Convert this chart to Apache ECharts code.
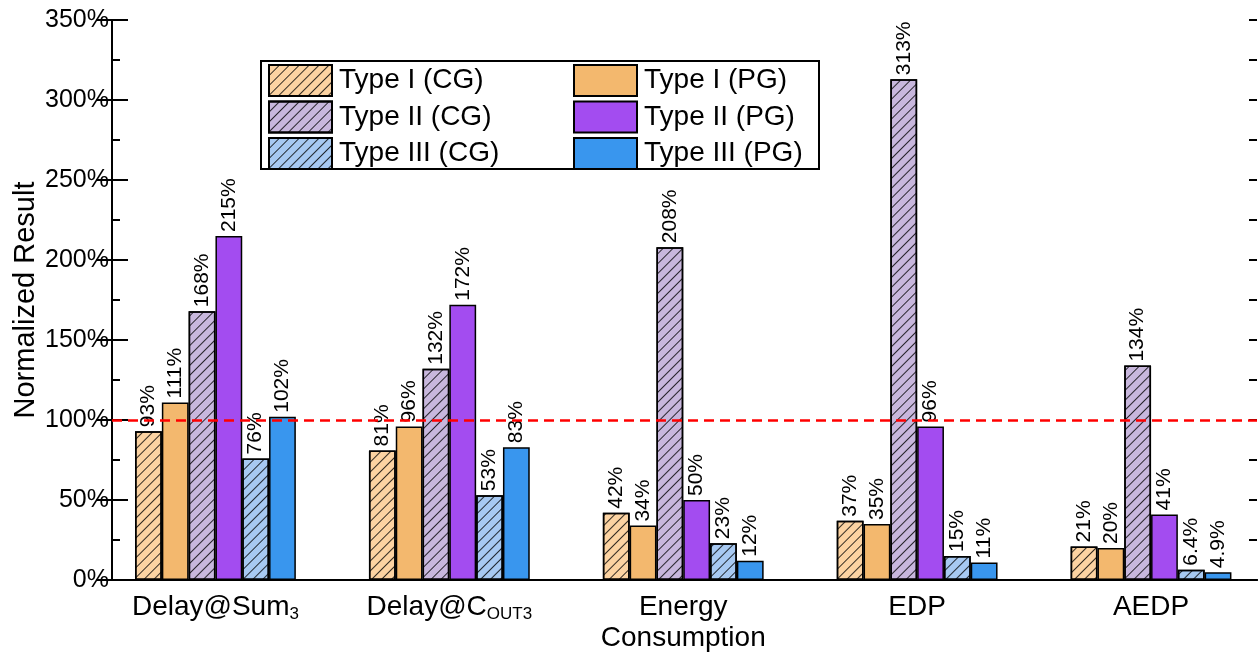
<!DOCTYPE html>
<html>
<head>
<meta charset="utf-8">
<script src="https://cdn.jsdelivr.net/npm/echarts@6/dist/echarts.min.js"></script>
<style>
html,body{margin:0;padding:0;background:#fff;}
#c{width:1258px;height:654px;}
</style>
</head>
<body>
<div id="c"></div>
<script>
const categories = ['Delay@Sum3', 'Delay@COUT3', 'Energy Consumption', 'EDP', 'AEDP'];
const type1CG = [93, 81, 42, 37, 21];
const type1PG = [111, 96, 34, 35, 20];
const type2CG = [168, 132, 208, 313, 134];
const type2PG = [215, 172, 50, 96, 41];
const type3CG = [76, 53, 23, 15, 6.4];
const type3PG = [102, 83, 12, 11, 4.9];
const seriesNames = ['Type I (CG)', 'Type I (PG)', 'Type II (CG)', 'Type II (PG)', 'Type III (CG)', 'Type III (PG)'];
const seriesData = [type1CG, type1PG, type2CG, type2PG, type3CG, type3PG];
const seriesColors = ['#FCD3A2', '#F3B86E', '#C8B7DD', '#A34CF0', '#A7C9F2', '#3996EE'];
const hatched = [true, false, true, false, true, false];
const yMin = 0, yMax = 350, yStep = 50, yMinorStep = 25;
const refLine = 100;

const FONT = 'Liberation Sans, Arial, sans-serif';
const chart = echarts.init(document.getElementById('c'));

const catLabel = {
  'Delay@Sum3': '{a|Delay@Sum}{s|3}',
  'Delay@COUT3': '{a|Delay@C}{s|OUT3}',
  'Energy Consumption': '{a|Energy}\n{a|Consumption}',
  'EDP': '{a|EDP}',
  'AEDP': '{a|AEDP}'
};

const hatchDecal = {
  symbol: 'rect',
  symbolSize: 1,
  color: 'rgba(0,0,0,0.8)',
  dashArrayX: [1, 0],
  dashArrayY: [1, 6],
  rotation: -Math.PI / 4
};

const barSeries = seriesNames.map((name, i) => ({
  name: name,
  type: 'bar',
  xAxisIndex: 2,
  yAxisIndex: 2,
  data: seriesData[i],
  barWidth: 26.8,
  barGap: '0%',
  z: 3,
  itemStyle: Object.assign({
    color: seriesColors[i],
    borderColor: '#000',
    borderWidth: 1.5
  }, hatched[i] ? { decal: hatchDecal } : {}),
  label: {
    show: true,
    position: 'top',
    rotate: 90,
    align: 'left',
    verticalAlign: 'middle',
    distance: 4,
    formatter: p => p.value + '%',
    fontFamily: FONT,
    fontSize: 21,
    color: '#000'
  }
}));

const legendCommon = {
  orient: 'vertical', top: 64, padding: 0,
  itemWidth: 63, itemHeight: 31, itemGap: 3.5, icon: 'rect',
  textStyle: { fontFamily: FONT, fontSize: 28, color: '#000', padding: [0, 0, 0, 2] }
};

const gridBox = { left: 112, right: 1, top: 20, bottom: 74, containLabel: false, outerBoundsMode: 'none' };

const minorAxis = (pos) => ({
  gridIndex: 2, type: 'value', min: yMin, max: yMax, interval: yMinorStep, position: pos,
  axisLine: { show: false },
  axisTick: { show: true, inside: true, length: 8, lineStyle: { color: '#000', width: 2 } },
  axisLabel: { show: false }, splitLine: { show: false }
});

const option = {
  animation: false,
  backgroundColor: '#fff',
  grid: [
    Object.assign({}, gridBox),
    { left: 98.5, width: 1169.5, top: 20, bottom: 74, containLabel: false, outerBoundsMode: 'none' },
    Object.assign({}, gridBox)
  ],
  xAxis: [
    { gridIndex: 0, type: 'value', min: 0, max: 1, position: 'bottom',
      axisLine: { show: true, lineStyle: { color: '#000', width: 2 } },
      axisTick: { show: false }, axisLabel: { show: false }, splitLine: { show: false } },
    { gridIndex: 0, type: 'value', min: 0, max: 1, position: 'top',
      axisLine: { show: true, lineStyle: { color: '#000', width: 2 } },
      axisTick: { show: false }, axisLabel: { show: false }, splitLine: { show: false } },
    { gridIndex: 1, type: 'category', data: categories,
      axisLine: { show: false }, axisTick: { show: false }, splitLine: { show: false },
      axisLabel: {
        margin: 12,
        interval: 0,
        formatter: v => catLabel[v] || v,
        rich: {
          a: { fontFamily: FONT, fontSize: 28, color: '#000', lineHeight: 31 },
          s: { fontFamily: FONT, fontSize: 17, color: '#000', lineHeight: 17, verticalAlign: 'bottom' }
        }
      } },
    { gridIndex: 2, type: 'value', min: 0, max: 1, show: false }
  ],
  yAxis: [
    { gridIndex: 0, type: 'value', min: yMin, max: yMax, interval: yStep, position: 'left',
      name: 'Normalized Result', nameLocation: 'middle', nameGap: 72, nameMoveOverlap: false,
      nameTextStyle: { fontFamily: FONT, fontSize: 29, color: '#000' },
      axisLine: { show: true, lineStyle: { color: '#000', width: 2 } },
      axisTick: { show: true, inside: true, length: 16, lineStyle: { color: '#000', width: 2 } },
      axisLabel: { formatter: '{value}%', fontFamily: FONT, fontSize: 25, color: '#000', margin: 3 },
      splitLine: { show: false } },
    { gridIndex: 0, type: 'value', min: yMin, max: yMax, interval: yStep, position: 'right',
      axisLine: { show: true, lineStyle: { color: '#000', width: 2 } },
      axisTick: { show: true, inside: true, length: 16, lineStyle: { color: '#000', width: 2 } },
      axisLabel: { show: false }, splitLine: { show: false } },
    { gridIndex: 1, type: 'value', min: yMin, max: yMax, interval: yStep, show: false },
    minorAxis('left'),
    minorAxis('right')
  ],
  legend: [
    Object.assign({ data: seriesNames.filter((n, i) => hatched[i]), left: 268 }, legendCommon),
    Object.assign({ data: seriesNames.filter((n, i) => !hatched[i]), left: 573 }, legendCommon)
  ],
  graphic: [
    { type: 'rect', left: 260, top: 60, z: 0,
      shape: { width: 558, height: 108 },
      style: { fill: '#fff', stroke: '#000', lineWidth: 2 } }
  ],
  series: [
    { type: 'line', xAxisIndex: 0, yAxisIndex: 0, data: [], z: 1, silent: true,
      markLine: { silent: true, symbol: 'none', label: { show: false },
        lineStyle: { color: '#FF0000', type: [10, 6], width: 2.5 },
        data: [{ yAxis: refLine }] } }
  ].concat(barSeries)
};
chart.setOption(option);
</script>
</body>
</html>
